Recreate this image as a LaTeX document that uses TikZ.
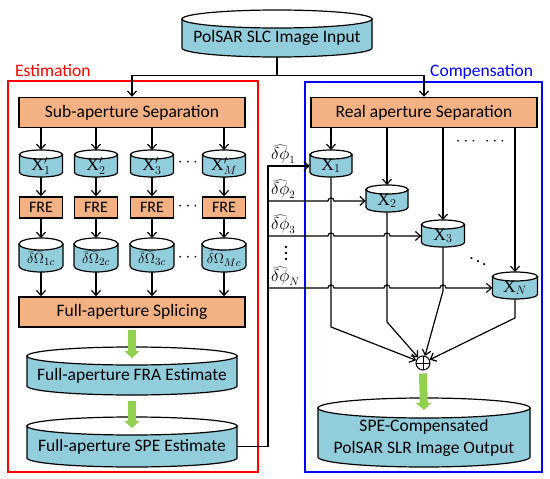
\documentclass[tikz,border=0pt]{standalone}
\usepackage{fontspec}
\setmainfont{Carlito}
\setmathrm{Liberation Serif}
\usetikzlibrary{
    arrows.meta,
    calc,
    positioning
}
\definecolor{boxorange}{RGB}{244,177,131}
\definecolor{drumblue}{RGB}{146,205,220}
\definecolor{arrowgreen}{RGB}{146,208,80}
% cylinder: name, middle x, top y, width, height, half height of the lid, text
\newcommand{\drum}[7]{
    \filldraw[drumline, fill=drumblue] ({#2-#4/2}, {#3+#6}) -- ({#2-#4/2}, {#3+#5-#6})
        arc[start angle=180, end angle=360, x radius={#4pt/2}, y radius=#6pt]
        -- ({#2+#4/2}, {#3+#6}) -- cycle;
    \filldraw[drumline, fill=white] (#2, {#3+#6}) ellipse[x radius={#4pt/2}, y radius=#6pt];
    \node[drumtext, minimum width=#4pt, minimum height=#5pt-#6pt, anchor=north] (#1) at (#2, {#3+#6}) {#7};
    \coordinate (#1-t) at (#2, #3);
}

\begin{document}
\begin{tikzpicture}[x=1pt, y=-1pt,
    flow/.style={-{Straight Barb[length=5pt, width=9pt]}, line width=1.2pt},
    fat/.style={-{Triangle[length=7pt, width=15pt]}, line width=8pt, arrowgreen},
    procbox/.style={draw, line width=1.4pt, fill=boxorange, inner sep=0pt, font=\fontsize{17.5}{20}\selectfont},
    drumline/.style={line width=1.2pt},
    drumtext/.style={inner sep=0pt, align=center, font=\fontsize{17.5}{22}\selectfont},
    philabel/.style={inner sep=0pt, font=\fontsize{16}{18}\selectfont},
    dots/.style={inner sep=0pt, font=\fontsize{17.5}{20}\selectfont},
    title/.style={anchor=base west, inner sep=0pt, font=\fontsize{17.5}{20}\selectfont}]
    \useasboundingbox (0, 0) rectangle (550, 479);
    % frames
    \draw[line width=1.2pt, red] (8, 81) rectangle (258, 472);
    \draw[line width=1.2pt, blue] (305, 82) rectangle (542, 472);
    \node[title, red] (esttitle) at (15, 76) {Estimation};
    \node[title, blue] (comptitle) at (430, 76) {Compensation};
    % input
    \drum{input}{277}{10}{190}{47}{9}{PolSAR SLC Image Input}
    \node[procbox, minimum width=226pt, minimum height=30pt] (subsep) at (132, 112.5) {Sub-aperture Separation};
    \node[procbox, minimum width=226pt, minimum height=30pt] (realsep) at (424, 112.5) {Real aperture Separation};
    \draw[line width=1.2pt] (input.south) -- ++(0, 18) coordinate (split);
    \draw[flow] (split) -| (subsep.north);
    \draw[flow] (split) -| (realsep.north);
    % estimation
    \node[procbox, minimum width=226pt, minimum height=30pt] (splice) at (132, 312) {Full-aperture Splicing};
    \foreach \i/\cx/\sub in {1/41/1, 2/96/2, 3/152/3, 4/224/M} {
        \drum{xs\i}{\cx}{150}{43}{27}{4.5}{$\mathrm{X}'_{\sub}$}
        \node[procbox, minimum width=43pt, minimum height=21pt, font=\fontsize{16}{18}\selectfont] (fre\i) at (\cx, 207.5) {FRE};
        \drum{om\i}{\cx}{238}{44}{34}{6}{\fontsize{15}{17}\selectfont$\widehat{\delta\Omega}_{\sub c}$}
        \draw[flow] (subsep.south -| xs\i-t) -- (xs\i-t);
        \draw[flow] (xs\i) -- (fre\i);
        \draw[flow] (fre\i) -- (om\i-t);
        \draw[flow] (om\i) -- (splice.north -| om\i);
    }
    \node[dots] (sdots1) at (188, 163) {$\cdots$};
    \node[dots] (sdots2) at (188, 207) {$\cdots$};
    \node[dots] (sdots3) at (188, 258) {$\cdots$};
    \drum{fra}{132}{347}{210}{48}{9}{Full-aperture FRA Estimate}
    \drum{spe}{132}{417}{210}{50}{9}{Full-aperture SPE Estimate}
    \draw[fat] ($(splice.south)+(0, 2)$) -- ($(fra-t)+(0, 11)$);
    \draw[fat] ($(fra.south)+(0, 6)$) -- ($(spe-t)+(0, 11)$);
    % compensation
    \drum{xa}{331}{150}{42}{27}{4.5}{$\mathrm{X}_1$}
    \drum{xb}{387}{185}{42}{27}{4.5}{$\mathrm{X}_2$}
    \drum{xc}{443}{220}{43}{27}{4.5}{$\mathrm{X}_3$}
    \drum{xn}{515}{272}{45}{27}{4.5}{$\mathrm{X}_N$}
    \draw[flow] (realsep.south -| xa-t) -- (xa-t);
    \draw[flow] (realsep.south -| xb-t) -- (xb-t);
    \draw[flow] (realsep.south -| xc-t) -- (xc-t);
    \draw[flow] (realsep.south -| xn-t) -- (xn-t);
    \node[dots] (cdots1) at (466, 142) {$\cdots$};
    \node[dots] (cdots2) at (495, 142) {$\cdots$};
    \node[dots] (cdots3) at (478, 259) {$\ddots$};
    % phase errors
    \coordinate (busx) at (268, 0);
    \path (busx |- xa.west) coordinate (b1)
          (busx |- xb.west) coordinate (b2)
          (busx |- xc.west) coordinate (b3)
          (busx |- xn.west) coordinate (bn);
    \draw[flow] (spe.east) -| (b1) -- (xa.west);
    \draw[flow] (b2) -- ($(xa.south |- b2)+(-3, 0)$) arc[start angle=180, end angle=0, radius=3pt] -- (xb.west);
    \draw[flow] (b3) -- ($(xa.south |- b3)+(-3, 0)$) arc[start angle=180, end angle=0, radius=3pt]
        -- ($(xb.south |- b3)+(-3, 0)$) arc[start angle=180, end angle=0, radius=3pt] -- (xc.west);
    \draw[flow] (bn) -- ($(xa.south |- bn)+(-3, 0)$) arc[start angle=180, end angle=0, radius=3pt]
        -- ($(xb.south |- bn)+(-3, 0)$) arc[start angle=180, end angle=0, radius=3pt]
        -- ($(xc.south |- bn)+(-3, 0)$) arc[start angle=180, end angle=0, radius=3pt] -- (xn.west);
    \draw[line width=1.2pt] (bn) -- (b3) -- (b2) -- (b1);
    \node[philabel, above right=2pt and 3pt of b1] (phi1) {$\widehat{\delta\phi}_1$};
    \node[philabel, above right=2pt and 3pt of b2] (phi2) {$\widehat{\delta\phi}_2$};
    \node[philabel, above right=2pt and 3pt of b3] (phi3) {$\widehat{\delta\phi}_3$};
    \foreach \k in {0, 1, 2}
        \fill (286, {247+6*\k}) circle (1.3pt);
    \node[philabel, above right=2pt and 3pt of bn] (phin) {$\widehat{\delta\phi}_N$};
    % sum and output
    \node[draw, circle, fill=white, line width=1pt, minimum size=14pt, inner sep=0pt,
        path picture={\draw (path picture bounding box.north) -- (path picture bounding box.south)
            (path picture bounding box.west) -- (path picture bounding box.east);}] (sum) at (423, 363) {};
    \draw[flow] (xa) -- ++(0, 161) -- (sum);
    \draw[flow] (xb) -- ++(0, 121) -- (sum);
    \draw[flow] (xc) -- ++(0, 55) -- (sum);
    \draw[flow] (xn) -- ++(0, 30) -- (sum);
    \drum{out}{424}{398}{212}{69}{10}{SPE-Compensated\\PolSAR SLR Image Output}
    \draw[fat] ($(sum.south)+(0, 3)$) -- ($(out-t)+(0, 12)$);
\end{tikzpicture}
\end{document}
